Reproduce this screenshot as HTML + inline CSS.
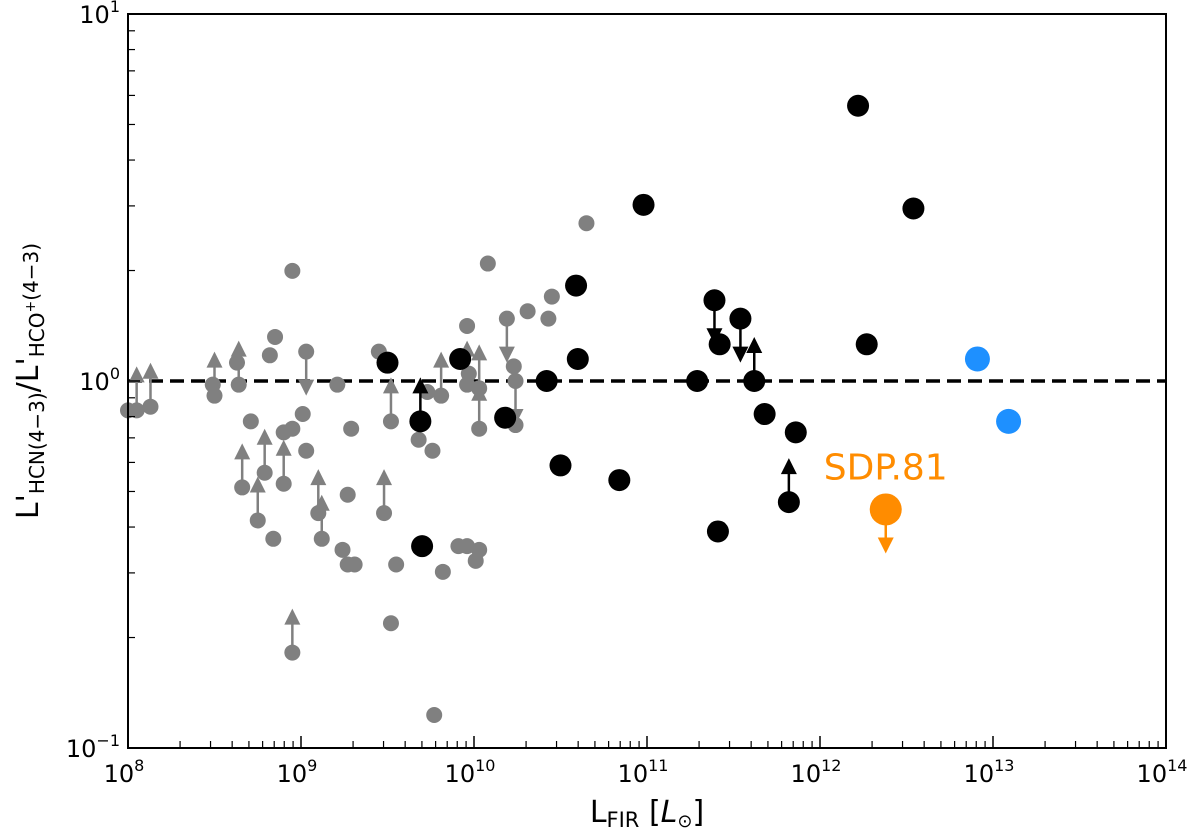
<!DOCTYPE html>
<html><head><meta charset="utf-8"><style>
body{margin:0;background:#fff;}
svg{display:block;font-family:"DejaVu Sans","Liberation Sans",sans-serif;}
</style></head><body>
<svg id="chart" width="1200" height="839" viewBox="0 0 1200 839" xmlns="http://www.w3.org/2000/svg">
<g id="marks"></g>
<g id="axes"></g>
</svg>
<script>
// log10(L_FIR) and log10(ratio) values
const grayX = [8.05,8.13,8.49,8.50,8.63,8.64,8.85,8.82,9.03,8.95,8.71,9.01,8.95,8.90,9.03,9.29,9.21,8.79,8.66,8.90,8.75,8.84,9.10,9.12,9.27,9.24,9.27,9.31,9.48,9.55,8.95,9.52,9.77,9.82,9.91,9.96,10.01,10.03,9.68,9.76,9.52,9.45,9.81,9.73,9.96,9.97,9.96,10.03,10.03,10.08,10.19,10.23,10.24,10.24,10.31,10.45,10.43,10.65,8.0];
const grayY = [-0.08,-0.07,-0.01,-0.04,0.05,-0.01,0.12,0.07,0.08,0.30,-0.11,-0.09,-0.13,-0.14,-0.19,-0.13,-0.01,-0.25,-0.29,-0.28,-0.38,-0.43,-0.36,-0.43,-0.31,-0.46,-0.50,-0.50,-0.36,-0.50,-0.74,-0.66,-0.91,-0.52,-0.45,-0.45,-0.49,-0.46,-0.16,-0.19,-0.11,0.08,-0.04,-0.03,-0.01,0.02,0.15,-0.02,-0.13,0.32,0.17,0.04,0.00,-0.12,0.19,0.23,0.17,0.43,-0.08];
const grayLim = ["U","U","","U","","U","","","D","","","","","","","","","U","U","U","U","","U","U","","","","","U","","U","","","","","","","","","","U","","U","","U","","","U","U","","D","","D","","","","","",""];
const blackX = [9.50,9.69,9.92,9.70,10.18,10.42,10.50,10.60,10.59,10.84,10.98,11.29,11.39,11.42,11.54,11.62,11.68,11.86,11.82,11.41,12.22,12.54,12.27];
const blackY = [0.05,-0.11,0.06,-0.45,-0.10,0.00,-0.23,0.06,0.26,-0.27,0.48,0.00,0.22,0.10,0.17,0.00,-0.09,-0.14,-0.33,-0.41,0.75,0.47,0.10];
const blackLim = ["","U","","","","","","","","","","","D","","D","U","","","U","","","",""];
const blueX = [12.91,13.09];
const blueY = [0.06,-0.11];
const sdpX = [12.38];
const sdpY = [-0.35];
const xTicks = [8,9,10,11,12,13,14];
const yTicks = [-1,0,1];

const X0=128,X1=1166,Y0=748,Y1=14;
const xs = v => X0 + (v-8)/6*(X1-X0);
const ys = v => Y0 - (v+1)/2*(Y0-Y1);
const NS="http://www.w3.org/2000/svg";
const marks=document.getElementById('marks'), axes=document.getElementById('axes');
function mk(tag,attrs,parent){const e=document.createElementNS(NS,tag);for(const k in attrs)e.setAttribute(k,attrs[k]);parent.appendChild(e);return e;}

let dl=mk('line',{x1:X0,x2:X1,y1:ys(0),y2:ys(0),stroke:'#000','stroke-width':3.5,'stroke-dasharray':'14,7'},marks);



function arrow(cx,cy,dir,color,g){
  const s = dir==="U"?-1:1;
  const tip = cy + s*44;
  mk('line',{x1:cx,y1:cy,x2:cx,y2:tip - s*10,stroke:color,'stroke-width':2.5},g);
  const b = tip - s*16;
  mk('polygon',{points:`${cx-8},${b} ${cx+8},${b} ${cx},${tip}`,fill:color},g);
}
function series(X,Y,L,color,r,name){
  const g=mk('g',{},marks);
  
  
  for(let i=0;i<X.length;i++){
    const cx=xs(X[i]),cy=ys(Y[i]);
    if(L && L[i]) arrow(cx,cy,L[i],color,g);
    const c=mk('circle',{cx:cx,cy:cy,r:r,fill:color},g);
    
    
  }
  return g;
}
series(grayX,grayY,grayLim,'#808080',8,'local-galaxies');
series(blackX,blackY,blackLim,'#000000',11,'luminous-galaxies');
series(blueX,blueY,null,'#1e90ff',12.5,'high-z-galaxies');
const sg=mk('g',{},marks);


arrow(xs(sdpX[0]),ys(sdpY[0]),"D",'#ff8c00',sg);
mk('circle',{cx:xs(sdpX[0]),cy:ys(sdpY[0]),r:16,fill:'#ff8c00'},sg);
let st=mk('text',{x:xs(sdpX[0]),y:ys(sdpY[0])-30,'text-anchor':'middle','font-size':36,fill:'#ff8c00'},sg);
st.textContent='SDP.81';



mk('rect',{x:X0,y:Y1,width:X1-X0,height:Y0-Y1,fill:'none',stroke:'#000','stroke-width':2},axes);
xTicks.forEach(t=>{
  const x=xs(t);
  mk('line',{x1:x,x2:x,y1:Y0,y2:Y0-12,stroke:'#000','stroke-width':1.5},axes);
  if(t<14) for(let m=2;m<10;m++){const xm=xs(t+Math.log10(m));mk('line',{x1:xm,x2:xm,y1:Y0,y2:Y0-7,stroke:'#000','stroke-width':1.2},axes);}
  const tx=mk('text',{x:x-4,y:Y0+34,'text-anchor':'middle','font-size':24},axes);
  
  
  tx.innerHTML=`10<tspan font-size="16" dy="-11">${t}</tspan>`;
});
yTicks.forEach(t=>{
  const y=ys(t);
  mk('line',{x1:X0,x2:X0+12,y1:y,y2:y,stroke:'#000','stroke-width':1.5},axes);
  if(t<1) for(let m=2;m<10;m++){const ym=ys(t+Math.log10(m));mk('line',{x1:X0,x2:X0+7,y1:ym,y2:ym,stroke:'#000','stroke-width':1.2},axes);}
  const ty=mk('text',{x:X0-8,y:y+9,'text-anchor':'end','font-size':24},axes);
  
  
  ty.innerHTML=`10<tspan font-size="16" dy="-11">${t===-1?'\u22121':t}</tspan>`;
});
let xl=mk('text',{x:647,y:822,'text-anchor':'middle','font-size':30},axes);


xl.innerHTML=`L<tspan font-size="21" dy="5">FIR</tspan><tspan dy="-5"> [</tspan><tspan font-style="italic">L</tspan><tspan font-size="18" dy="5">⊙</tspan><tspan dy="-5">]</tspan>`;
let yl=mk('text',{x:0,y:0,'text-anchor':'middle','font-size':30,transform:'translate(38,381) rotate(-90)'},axes);


yl.innerHTML=`L'<tspan font-size="20" dy="6">HCN(4−3)</tspan><tspan dy="-6">/L'</tspan><tspan font-size="20" dy="6">HCO</tspan><tspan font-size="14" dy="-9">+</tspan><tspan font-size="20" dy="3">(4−3)</tspan>`;
</script>
</body></html>
